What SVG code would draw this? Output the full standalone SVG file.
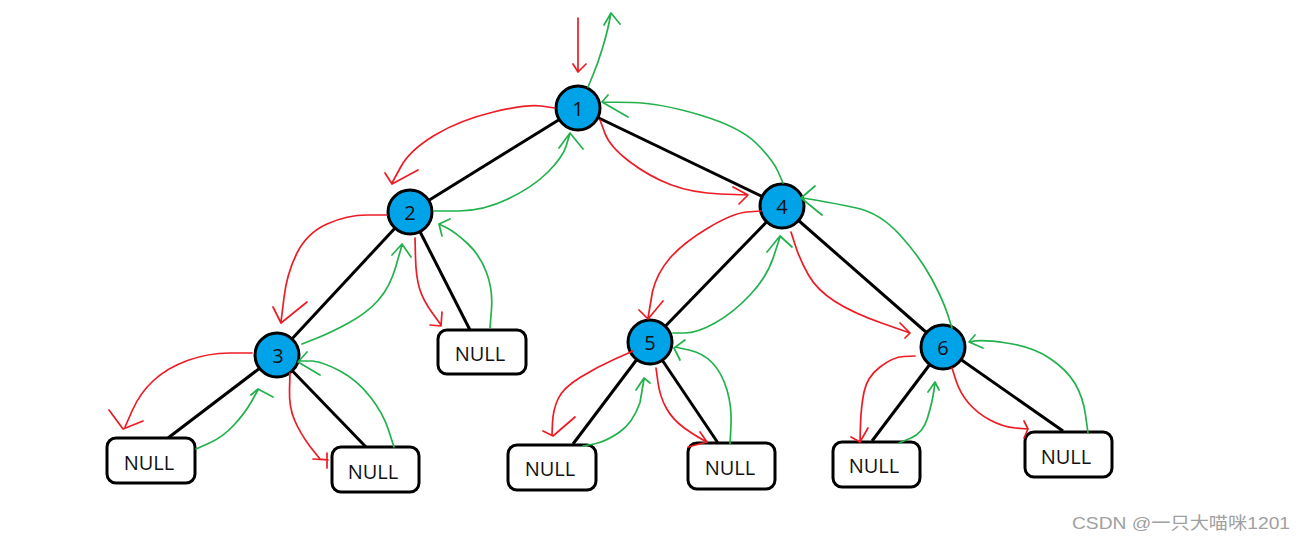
<svg xmlns="http://www.w3.org/2000/svg" width="1306" height="542" viewBox="0 0 1306 542">
<style>
.edge{stroke:#000;stroke-width:3;fill:none}
.node circle{fill:#00a2e8;stroke:#000;stroke-width:3}
.nul rect{fill:#fff;stroke:#000;stroke-width:3}
.lbl{font-family:"Open Sans","Liberation Sans",sans-serif;font-size:20px;fill:#111;text-anchor:middle;dominant-baseline:central}
.r{stroke:#ed1c24;stroke-width:1.7;fill:none;stroke-linejoin:round;stroke-linecap:round}
.g{stroke:#22b14c;stroke-width:1.7;fill:none;stroke-linejoin:round;stroke-linecap:round}
</style>
<rect width="1306" height="542" fill="#fff"/>
<g id="edges">
<line class="edge" x1="578" y1="108" x2="410" y2="212"/>
<line class="edge" x1="578" y1="108" x2="782" y2="206"/>
<line class="edge" x1="410" y1="212" x2="277" y2="355"/>
<line class="edge" x1="410" y1="212" x2="470" y2="330"/>
<line class="edge" x1="277" y1="355" x2="168" y2="438"/>
<line class="edge" x1="277" y1="355" x2="366" y2="447"/>
<line class="edge" x1="782" y1="206" x2="650" y2="342"/>
<line class="edge" x1="782" y1="206" x2="943" y2="347"/>
<line class="edge" x1="650" y1="342" x2="573" y2="444"/>
<line class="edge" x1="650" y1="342" x2="718" y2="443"/>
<line class="edge" x1="943" y1="347" x2="872" y2="441"/>
<line class="edge" x1="943" y1="347" x2="1063" y2="431"/>
</g>
<g id="n1" class="node"><circle cx="578" cy="108" r="22"/><text class="lbl" x="578" y="108">1</text></g>
<g id="n2" class="node"><circle cx="410" cy="212" r="22"/><text class="lbl" x="410" y="212">2</text></g>
<g id="n3" class="node"><circle cx="277" cy="355" r="22"/><text class="lbl" x="278" y="355">3</text></g>
<g id="n4" class="node"><circle cx="782" cy="206" r="22"/><text class="lbl" x="782" y="206">4</text></g>
<g id="n5" class="node"><circle cx="650" cy="342" r="22"/><text class="lbl" x="650" y="342">5</text></g>
<g id="n6" class="node"><circle cx="943" cy="347" r="22"/><text class="lbl" x="943" y="347">6</text></g>
<g id="null2" class="nul"><rect x="438" y="330" width="88" height="44" rx="9"/><text class="lbl" x="480" y="353">NULL</text></g>
<g id="null3l" class="nul"><rect x="107" y="438" width="88" height="45" rx="9"/><text class="lbl" x="149" y="462">NULL</text></g>
<g id="null3r" class="nul"><rect x="332" y="447" width="87" height="45" rx="9"/><text class="lbl" x="373" y="471">NULL</text></g>
<g id="null5l" class="nul"><rect x="508" y="445" width="88" height="45" rx="9"/><text class="lbl" x="550" y="468">NULL</text></g>
<g id="null5r" class="nul"><rect x="688" y="443" width="87" height="46" rx="9"/><text class="lbl" x="730" y="467">NULL</text></g>
<g id="null6l" class="nul"><rect x="833" y="442" width="87" height="45" rx="9"/><text class="lbl" x="874" y="465">NULL</text></g>
<g id="null6r" class="nul"><rect x="1025" y="432" width="87" height="45" rx="9"/><text class="lbl" x="1066" y="456">NULL</text></g>
<g id="arrows">
<path class="r" d="M578,18 L578,72 M573,64 L578,72 L586,64"/>
<path class="r" d="M555,108 L541,106 Q527,104 493.5,112 Q460,120 435,135 Q410,150 401,166.5 L392,183 M385,173 L392,184 L418,170"/>
<path class="r" d="M600,120 L605,133.5 Q610,147 630,162 Q650,177 671.5,185 Q693,193 720.5,194 L748,195 M733,187 L748,195 L739,204"/>
<path class="r" d="M387,215 L367,215 Q347,215 327,224 Q307,233 297,253 Q287,273 284,297.5 L281,322 M273,307 L281,323 L307,302"/>
<path class="r" d="M415,238 L415.5,257.5 Q416,277 419.5,288.5 Q423,300 432,312.5 L441,325 M430,325 L441,326 L442,312"/>
<path class="r" d="M252,353 L230,353 Q208,353 187.5,360.5 Q167,368 153.5,380.5 Q140,393 132.5,410 L125,427 M109,410 L123,429 L143,421"/>
<path class="r" d="M290,373 L289.5,390 Q289,407 294.5,420 Q300,433 310,446.5 L320,459 L328,460 M313,459 L328,460 M327,453 L327,468"/>
<path class="r" d="M761,211 L747,212 Q733,213 708,228 Q683,243 670,258 Q657,273 652.5,291.5 L648,318 M639,310 L648,319 L663,301"/>
<path class="r" d="M791,232 L795.5,246 Q800,260 808.5,275 Q817,290 835,301.5 Q853,313 881.5,323 L910,333 M900,323 L910,333 L905,338"/>
<path class="r" d="M633,351 L615,359 Q597,367 580,377.5 Q563,388 558,399 Q553,410 552.5,422.5 L552,435 M543,431 L553,436 L575,417"/>
<path class="r" d="M656,368 L658,382.5 Q660,397 666.5,408.5 Q673,420 685,428.5 Q697,437 707,442 M700,432 L707,442 L688,447"/>
<path class="r" d="M915,356 L904,356.5 Q893,357 880,367 Q867,377 864,392 Q861,407 860.5,424.5 L860,442 M851,437 L860,442 L868,428"/>
<path class="r" d="M952,368 L956,380.5 Q960,393 968.5,403 Q977,413 990,420 Q1003,427 1015.5,428 L1028,429 M1024,421 L1028,429 L1024,438"/>
<path class="g" d="M588,87 L593,75 Q598,63 602.5,48 Q607,33 609,23 L611,13 M604,25 L611,13 L620,24"/>
<path class="g" d="M434,211 L458.5,211 Q483,211 508,199 Q533,187 548,172 Q563,157 566.5,145 L570,133 M559,148 L570,133 L583,149"/>
<path class="g" d="M490,328 L491.5,309 Q493,290 486.5,272.5 Q480,255 467.5,243.5 Q455,232 447,228 L439,224 M450,219 L439,224 L442,236"/>
<path class="g" d="M302,344 L316,338.5 Q330,333 348.5,323 Q367,313 378.5,300 Q390,287 396,266 L402,245 M392,255 L402,244 L411,257"/>
<path class="g" d="M394,447 L388.5,430 Q383,413 370,396.5 Q357,380 340,371 Q323,362 312.5,361 L299,361 M307,352 L298,362 L320,375"/>
<path class="g" d="M196,449 L209.5,443 Q223,437 234,425 Q245,413 251.5,401.5 L258,390 M251,395 L258,389 L273,397"/>
<path class="g" d="M783,183 L778,171.5 Q773,160 756.5,143.5 Q740,127 700,115 Q660,103 631.5,102.5 L603,102 M608,95 L602,102 L628,117"/>
<path class="g" d="M673,333 L685,333 Q697,333 715,323 Q733,313 750,295 Q767,277 773.5,257 L780,237 M767,252 L780,236 L792,247"/>
<path class="g" d="M952,328 L947.5,314 Q943,300 931.5,278.5 Q920,257 900,235 Q880,213 856.5,208 Q833,203 818,200.5 L803,198 M815,186 L801,198 L822,215"/>
<path class="g" d="M730,444 L731,425.5 Q732,407 727,390 Q722,373 712.5,363 Q703,353 689,350 L675,347 M685,340 L674,348 L680,360"/>
<path class="g" d="M583,446 L594,444 Q605,442 619,432.5 Q633,423 640,402.5 L644,379 M636,390 L644,378 L650,383"/>
<path class="g" d="M1088,433 L1085.5,415 Q1083,397 1075,383.5 Q1067,370 1050,358.5 Q1033,347 1006.5,343 Q980,339 970,342 M975,335 L969,342 L983,348"/>
<path class="g" d="M899,443 L911,438 Q923,433 927.5,418 Q932,403 933.5,393 L935,383 M928,392 L935,382 L939,390"/>
</g>
<text x="1072" y="529" font-family="'Liberation Sans','Noto Sans CJK SC',sans-serif" font-size="17" fill="#a0a0a0" textLength="218" lengthAdjust="spacingAndGlyphs">CSDN @一只大喵咪1201</text>
</svg>
